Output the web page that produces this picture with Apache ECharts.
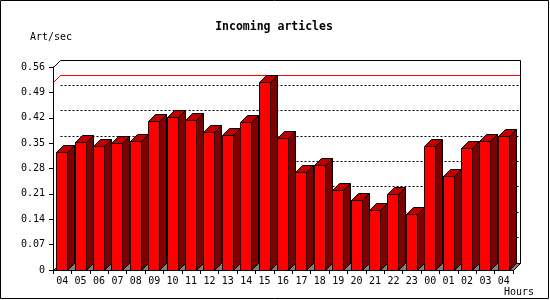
<!DOCTYPE html>
<html>
<head>
<meta charset="utf-8">
<script src="https://cdn.jsdelivr.net/npm/echarts@6/dist/echarts.min.js"></script>
<style>
html,body{margin:0;padding:0;background:#fff;}
#chart{width:550px;height:300px;}
</style>
</head>
<body>
<div id="chart"></div>
<script>
// ---- data ----
const hours = ['04','05','06','07','08','09','10','11','12','13','14','15','16','17','18','19','20','21','22','23','00','01','02','03','04'];
const artPerSec = [0.325,0.353,0.342,0.350,0.355,0.410,0.420,0.413,0.380,0.372,0.408,0.518,0.363,0.269,0.289,0.218,0.193,0.165,0.207,0.152,0.342,0.259,0.336,0.355,0.369];
const yTickValues = [0,0.07,0.14,0.21,0.28,0.35,0.42,0.49,0.56];
const yTickLabels = ['0','0.07','0.14','0.21','0.28','0.35','0.42','0.49','0.56'];
const titleText = 'Incoming articles';
const yUnit = 'Art/sec';
const xUnit = 'Hours';

// ---- style ----
const DEPTH = 7;
const FONT = 'DejaVu Sans Mono';
const px = v => Math.floor(v) + 0.5;

const chart = echarts.init(document.getElementById('chart'), null, {renderer: 'canvas'});

function renderFrame(params, api) {
  const cs = params.coordSys;
  const L = cs.x, T = cs.y, R = cs.x + cs.width, B = cs.y + cs.height;
  const d = DEPTH;
  const ch = [];
  // floor
  ch.push({type: 'polygon', shape: {points: [[px(L), px(B)], [px(R), px(B)], [px(R) + d, px(B) - d], [px(L) + d, px(B) - d]]},
    style: {fill: '#808080', stroke: '#000', lineWidth: 1}});
  // dotted grid on back wall
  yTickValues.forEach(v => {
    if (v <= yTickValues[0] || v >= yTickValues[yTickValues.length - 1]) return;
    const y = px(api.coord([0, v])[1]) - d;
    ch.push({type: 'line', shape: {x1: px(L) + d, y1: y, x2: px(R) + d, y2: y},
      style: {stroke: '#000', lineWidth: 1, lineDash: [2, 2]}});
  });
  // top of back wall
  const yTop = px(T);
  ch.push({type: 'polyline', shape: {points: [[px(L), yTop], [px(L) + d, yTop - d], [px(R) + d, yTop - d], [px(R) + d, px(B) - d]]},
    style: {stroke: '#000', lineWidth: 1, fill: null}});
  // max line
  const maxV = Math.max.apply(null, artPerSec);
  const ym = px(api.coord([0, maxV])[1]);
  ch.push({type: 'polyline', shape: {points: [[px(L), ym], [px(L) + d, ym - d], [px(R) + d, ym - d]]},
    style: {stroke: '#ff0000', lineWidth: 1, fill: null}});
  return {type: 'group', children: ch};
}

function renderBar(params, api) {
  const i = api.value(0), v = api.value(1);
  const base = api.coord([i, 0]);
  const top = api.coord([i, v]);
  const bw = api.size([1, 0])[0];
  const w = bw * 0.6;
  const xl = px(base[0] - w / 2), xr = px(base[0] + w / 2);
  const yb = px(base[1]), yt = px(top[1]);
  const d = DEPTH;
  const stroke = {stroke: '#000', lineWidth: 1};
  return {type: 'group', children: [
    {type: 'polygon', shape: {points: [[xr, yt], [xr + d, yt - d], [xr + d, yb - d], [xr, yb]]},
      style: Object.assign({fill: '#800000'}, stroke)},
    {type: 'polygon', shape: {points: [[xl, yt], [xl + d, yt - d], [xr + d, yt - d], [xr, yt]]},
      style: Object.assign({fill: '#c00000'}, stroke)},
    {type: 'polygon', shape: {points: [[xl, yt], [xr, yt], [xr, yb], [xl, yb]]},
      style: Object.assign({fill: '#ff0000'}, stroke)}
  ]};
}

const option = {
  animation: false,
  backgroundColor: '#fff',
  grid: {left: 53, right: 37, top: 67, bottom: 30, containLabel: false},
  xAxis: {
    type: 'category',
    data: hours,
    boundaryGap: true,
    axisLine: {show: true, lineStyle: {color: '#000', width: 1}},
    axisTick: {show: true, interval: 0, length: 4, lineStyle: {color: '#000'}},
    axisLabel: {interval: 0, margin: 6, color: '#000', fontFamily: FONT, fontSize: 10},
    splitLine: {show: false}
  },
  yAxis: {
    type: 'value',
    min: yTickValues[0],
    max: yTickValues[yTickValues.length - 1],
    interval: 0.07,
    axisLine: {show: true, lineStyle: {color: '#000', width: 1}},
    axisTick: {show: true, length: 4, lineStyle: {color: '#000'}},
    axisLabel: {margin: 8, color: '#000', fontFamily: FONT, fontSize: 10,
      formatter: (val, idx) => yTickLabels[idx] !== undefined ? yTickLabels[idx] : String(val)},
    splitLine: {show: false}
  },
  graphic: [
    {type: 'rect', shape: {x: 0.5, y: 0.5, width: 548, height: 298}, style: {fill: null, stroke: '#000', lineWidth: 1}, z: 100},
    {type: 'text', x: 274, y: 27, style: {text: titleText, font: 'bold 11.5px "DejaVu Sans Mono"', fill: '#000', textAlign: 'center', textVerticalAlign: 'middle'}},
    {type: 'text', x: 30, y: 37, style: {text: yUnit, font: '10px "DejaVu Sans Mono"', fill: '#000', textAlign: 'left', textVerticalAlign: 'middle'}},
    {type: 'text', x: 504, y: 292, style: {text: xUnit, font: '10px "DejaVu Sans Mono"', fill: '#000', textAlign: 'left', textVerticalAlign: 'middle'}}
  ],
  series: [
    {type: 'custom', name: 'frame', z: 1, silent: true, renderItem: renderFrame, data: [[0, 0]], encode: {x: 0, y: 1}},
    {type: 'custom', name: 'articles', z: 2, renderItem: renderBar,
      data: artPerSec.map((v, i) => [i, v]), encode: {x: 0, y: 1}}
  ]
};
chart.setOption(option);
</script>
</body>
</html>
